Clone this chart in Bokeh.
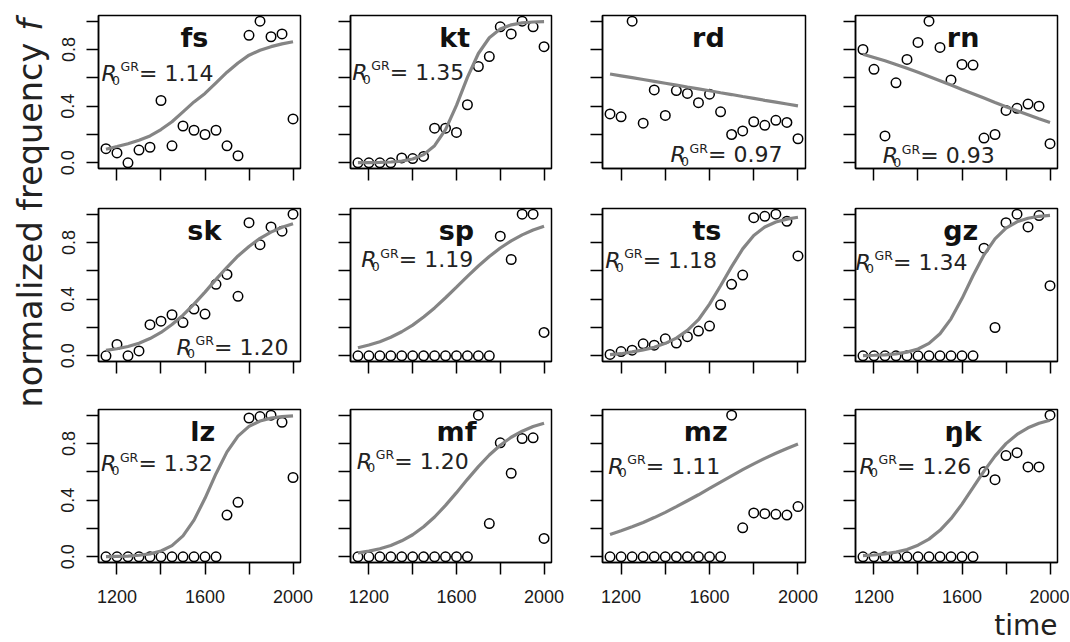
import math
from bokeh.plotting import figure
from bokeh.layouts import row, column
from bokeh.models import Range1d, FixedTicker, Label, ColumnDataSource, PrintfTickFormatter
from bokeh.embed import file_html
from bokeh.resources import INLINE

# ---------------- data ----------------
years = [1150, 1200, 1250, 1300, 1350, 1400, 1450, 1500, 1550,
         1600, 1650, 1700, 1750, 1800, 1850, 1900, 1950, 2000]

panel_names = ["fs", "kt", "rd", "rn", "sk", "sp", "ts", "gz", "lz", "mf", "mz", "ŋk"]
r0_values = ["1.14", "1.35", "0.97", "0.93", "1.20", "1.19", "1.18", "1.34",
             "1.32", "1.20", "1.11", "1.26"]

freq_fs = [0.10, 0.07, 0.0, 0.09, 0.11, 0.44, 0.12, 0.26, 0.23, 0.20, 0.23, 0.12, 0.05, 0.90, 1.0, 0.89, 0.91, 0.31]
freq_kt = [0.0, 0.0, 0.0, 0.0, 0.035, 0.03, 0.045, 0.245, 0.245, 0.215, 0.41, 0.68, 0.75, 0.96, 0.91, 1.0, 0.96, 0.82]
freq_rd = [0.345, 0.325, 1.0, 0.28, 0.515, 0.335, 0.51, 0.49, 0.425, 0.485, 0.36, 0.20, 0.225, 0.29, 0.265, 0.30, 0.285, 0.17]
freq_rn = [0.80, 0.66, 0.19, 0.565, 0.73, 0.85, 1.0, 0.815, 0.585, 0.695, 0.69, 0.175, 0.20, 0.37, 0.385, 0.415, 0.40, 0.135]
freq_sk = [0.0, 0.08, 0.0, 0.035, 0.22, 0.245, 0.29, 0.235, 0.33, 0.295, 0.505, 0.575, 0.42, 0.94, 0.785, 0.91, 0.88, 1.0]
freq_sp = [0.0, 0.0, 0.0, 0.0, 0.0, 0.0, 0.0, 0.0, 0.0, 0.0, 0.0, 0.0, 0.0, 0.845, 0.68, 1.0, 1.0, 0.165]
freq_ts = [0.01, 0.03, 0.04, 0.085, 0.075, 0.12, 0.09, 0.135, 0.175, 0.21, 0.36, 0.505, 0.57, 0.975, 0.985, 1.0, 0.95, 0.705]
freq_gz = [0.0, 0.0, 0.0, 0.0, 0.0, 0.0, 0.0, 0.0, 0.0, 0.0, 0.0, 0.76, 0.20, 0.94, 1.0, 0.91, 0.99, 0.495]
freq_lz = [0.0, 0.0, 0.0, 0.0, 0.0, 0.0, 0.0, 0.0, 0.0, 0.0, 0.0, 0.295, 0.385, 0.98, 0.99, 1.0, 0.95, 0.56]
freq_mf = [0.0, 0.0, 0.0, 0.0, 0.0, 0.0, 0.0, 0.0, 0.0, 0.0, 0.0, 1.0, 0.235, 0.805, 0.59, 0.835, 0.84, 0.13]
freq_mz = [0.0, 0.0, 0.0, 0.0, 0.0, 0.0, 0.0, 0.0, 0.0, 0.0, 0.0, 1.0, 0.205, 0.31, 0.305, 0.30, 0.295, 0.355]
freq_nk = [0.0, 0.0, 0.0, 0.0, 0.0, 0.0, 0.0, 0.0, 0.0, 0.0, 0.0, 0.60, 0.545, 0.715, 0.735, 0.635, 0.635, 1.0]

# fitted curves at the same years
fit_fs = [0.096, 0.115, 0.135, 0.16, 0.19, 0.235, 0.29, 0.36, 0.43, 0.49, 0.565, 0.64, 0.705, 0.76, 0.795, 0.82, 0.84, 0.855]
fit_kt = [0.001, 0.001, 0.003, 0.006, 0.012, 0.027, 0.058, 0.121, 0.235, 0.406, 0.603, 0.772, 0.883, 0.944, 0.974, 0.988, 0.994, 0.997]
fit_rd = [0.627, 0.614, 0.601, 0.588, 0.575, 0.562, 0.549, 0.535, 0.522, 0.509, 0.495, 0.482, 0.468, 0.455, 0.441, 0.428, 0.415, 0.402]
fit_rn = [0.767, 0.744, 0.720, 0.694, 0.667, 0.639, 0.610, 0.580, 0.549, 0.518, 0.488, 0.457, 0.426, 0.396, 0.367, 0.339, 0.311, 0.285]
fit_sk = [0.038, 0.05, 0.066, 0.089, 0.122, 0.165, 0.221, 0.287, 0.365, 0.450, 0.540, 0.625, 0.705, 0.772, 0.829, 0.873, 0.908, 0.933]
fit_sp = [0.057, 0.076, 0.100, 0.131, 0.170, 0.217, 0.274, 0.338, 0.410, 0.485, 0.561, 0.634, 0.701, 0.761, 0.812, 0.854, 0.888, 0.915]
fit_ts = [0.008, 0.015, 0.028, 0.042, 0.06, 0.088, 0.125, 0.18, 0.255, 0.365, 0.495, 0.63, 0.755, 0.85, 0.91, 0.945, 0.965, 0.978]
fit_gz = [0.002, 0.004, 0.007, 0.014, 0.026, 0.048, 0.088, 0.156, 0.261, 0.404, 0.565, 0.713, 0.826, 0.901, 0.946, 0.971, 0.985, 0.992]
fit_lz = [0.001, 0.003, 0.005, 0.011, 0.021, 0.041, 0.079, 0.148, 0.259, 0.413, 0.587, 0.741, 0.852, 0.921, 0.959, 0.979, 0.99, 0.995]
fit_mf = [0.028, 0.040, 0.057, 0.080, 0.113, 0.156, 0.212, 0.281, 0.363, 0.453, 0.547, 0.637, 0.719, 0.788, 0.844, 0.887, 0.920, 0.943]
fit_mz = [0.158, 0.184, 0.212, 0.243, 0.277, 0.314, 0.354, 0.396, 0.438, 0.483, 0.527, 0.572, 0.615, 0.656, 0.695, 0.731, 0.765, 0.796]
fit_nk = [0.008, 0.013, 0.021, 0.033, 0.052, 0.082, 0.125, 0.187, 0.269, 0.372, 0.488, 0.605, 0.711, 0.799, 0.864, 0.911, 0.943, 0.964]

x_labeled_ticks = [1200, 1600, 2000]
x_unlabeled_ticks = [1400, 1800]
y_labeled_ticks = [0.0, 0.4, 0.8]
y_unlabeled_ticks = [0.2, 0.6, 1.0]

freqs = [freq_fs, freq_kt, freq_rd, freq_rn, freq_sk, freq_sp,
         freq_ts, freq_gz, freq_lz, freq_mf, freq_mz, freq_nk]
fits = [fit_fs, fit_kt, fit_rd, fit_rn, fit_sk, fit_sp,
        fit_ts, fit_gz, fit_lz, fit_mf, fit_mz, fit_nk]

# ---------------- annotation placement (data units) ----------------
title_x = [1552, 1592, 1595, 1605, 1597, 1600, 1588, 1594, 1590, 1600, 1583, 1605]
title_y = 0.82
r0_x = [1130, 1124, 1424, 1240, 1471, 1165, 1128, 1116, 1127, 1145, 1142, 1134]
r0_y = [0.576, 0.583, 0.002, -0.005, 0.007, 0.624, 0.62, 0.608, 0.602, 0.621, 0.586, 0.586]

# ---------------- layout geometry (px) ----------------
col_left = [46, 26, 27, 26]
col_frame = [202, 201, 203, 202]
col_right = [24, 24, 24, 12]
row_top = [15, 18, 19]
row_frame = [153, 153, 153]
row_bottom = [22, 29, 47]
label_w = 52
strip_h = 33

XR = (1116, 2034)
YR = (-0.04, 1.04)

SANS = "DejaVu Sans"
TICKF = "Liberation Sans"
INK = "#1a1a1a"
BASE_FIX = 0.35   # baseline correction, in em


def style_axis(ax, labeled, unlabeled, show_labels):
    if show_labels:
        ax.ticker = FixedTicker(ticks=labeled, minor_ticks=unlabeled)
    else:
        ax.ticker = FixedTicker(ticks=[], minor_ticks=labeled + unlabeled)
    for pre in ("major", "minor"):
        setattr(ax, pre + "_tick_in", 0)
        setattr(ax, pre + "_tick_out", 12)
        setattr(ax, pre + "_tick_line_width", 1.5)
        setattr(ax, pre + "_tick_line_color", "black")
    ax.axis_line_width = 1.5
    ax.axis_line_color = "black"
    ax.major_label_text_font = TICKF
    ax.major_label_text_font_size = "18px"
    ax.major_label_text_color = INK


def make_panel(k, r, c):
    w = col_left[c] + col_frame[c] + col_right[c]
    h = row_top[r] + row_frame[r] + row_bottom[r]
    p = figure(width=w, height=h, x_range=Range1d(*XR), y_range=Range1d(*YR),
               toolbar_location=None, output_backend="svg",
               min_border_left=col_left[c], min_border_right=col_right[c],
               min_border_top=row_top[r], min_border_bottom=row_bottom[r],
               background_fill_color="white", border_fill_color="white",
               outline_line_color="black", outline_line_width=1.5)
    p.grid.visible = False
    style_axis(p.xaxis[0], x_labeled_ticks, x_unlabeled_ticks, r == 2)
    style_axis(p.yaxis[0], y_labeled_ticks, y_unlabeled_ticks, c == 0)
    p.yaxis.formatter = PrintfTickFormatter(format="%.1f")
    p.yaxis.major_label_orientation = "vertical"
    p.xaxis.major_label_standoff = 15
    p.yaxis.major_label_standoff = 12

    src = ColumnDataSource(dict(year=years, freq=freqs[k]))
    p.scatter(x="year", y="freq", source=src, marker="circle", size=9.5,
              fill_color=None, line_color="black", line_width=1.5)
    fsrc = ColumnDataSource(dict(year=years, fit=fits[k]))
    p.line(x="year", y="fit", source=fsrc, line_color="#858585", line_width=3.2)

    ppx = col_frame[c] / (XR[1] - XR[0])
    ppy = row_frame[r] / (YR[1] - YR[0])

    p.add_layout(Label(x=title_x[k], y=title_y + BASE_FIX * 27 / ppy, text=panel_names[k],
                       text_font=SANS, text_font_style="bold", text_font_size="27px",
                       text_color="#111111", text_align="center",
                       text_baseline="alphabetic"))

    pieces = [("R", 0.0, 0.0, 22.0, "italic"),
              ("0", 10.5, -3.5, 12.5, "normal"),
              ("GR", 19.0, 10.0, 12.5, "normal"),
              ("= " + r0_values[k], 37.5, 0.0, 22.0, "normal")]
    for txt, dx, dy, fsz, sty in pieces:
        p.add_layout(Label(x=r0_x[k] + dx / ppx,
                           y=r0_y[k] + (dy + BASE_FIX * fsz) / ppy, text=txt,
                           text_font=SANS, text_font_style=sty,
                           text_font_size="%gpx" % fsz,
                           text_color="#222222", text_align="left",
                           text_baseline="alphabetic"))
    return p


rows = []
k = 0
for r in range(3):
    figs = []
    for c in range(4):
        figs.append(make_panel(k, r, c))
        k += 1
    rows.append(row(*figs, spacing=0))

# strip under the grid holding the x-axis title "time"
grid_w = sum(col_left) + sum(col_frame) + sum(col_right)
strip = figure(width=grid_w, height=strip_h, x_range=Range1d(0, grid_w),
               y_range=Range1d(strip_h, 0), toolbar_location=None, output_backend="svg",
               x_axis_type=None, y_axis_type=None, min_border=0, outline_line_color=None,
               background_fill_color="white", border_fill_color="white")
strip.grid.visible = False
time_size = 28
time_right = grid_w - col_right[3]
strip.add_layout(Label(x=time_right, y=26 - BASE_FIX * time_size, text="time",
                       text_font=SANS, text_font_size="%gpx" % time_size,
                       text_color="#222222",
                       text_align="right", text_baseline="alphabetic"))

total_h = sum(row_top) + sum(row_frame) + sum(row_bottom) + strip_h
lab = figure(width=label_w, height=total_h, x_range=Range1d(0, label_w),
             y_range=Range1d(total_h, 0),
             toolbar_location=None, output_backend="svg", x_axis_type=None, y_axis_type=None,
             min_border=0, outline_line_color=None, background_fill_color="white",
             border_fill_color="white")
lab.grid.visible = False
ylab_size = 33.5
ylab_base_x = 42 - BASE_FIX * ylab_size
ylab_start = 407
lab.add_layout(Label(x=ylab_base_x, y=ylab_start, text="normalized frequency",
                     angle=math.pi / 2, text_font=SANS, text_font_size="%gpx" % ylab_size,
                     text_color="#222222", text_align="left", text_baseline="alphabetic"))
lab.add_layout(Label(x=ylab_base_x, y=ylab_start - ylab_size * 11.249, text="f",
                     angle=math.pi / 2, text_font=SANS, text_font_size="%gpx" % ylab_size,
                     text_font_style="italic",
                     text_color="#222222", text_align="left", text_baseline="alphabetic"))

layout = row(lab, column(*rows, strip, spacing=0), spacing=0)

open("out.html", "w").write(file_html(layout, INLINE))
